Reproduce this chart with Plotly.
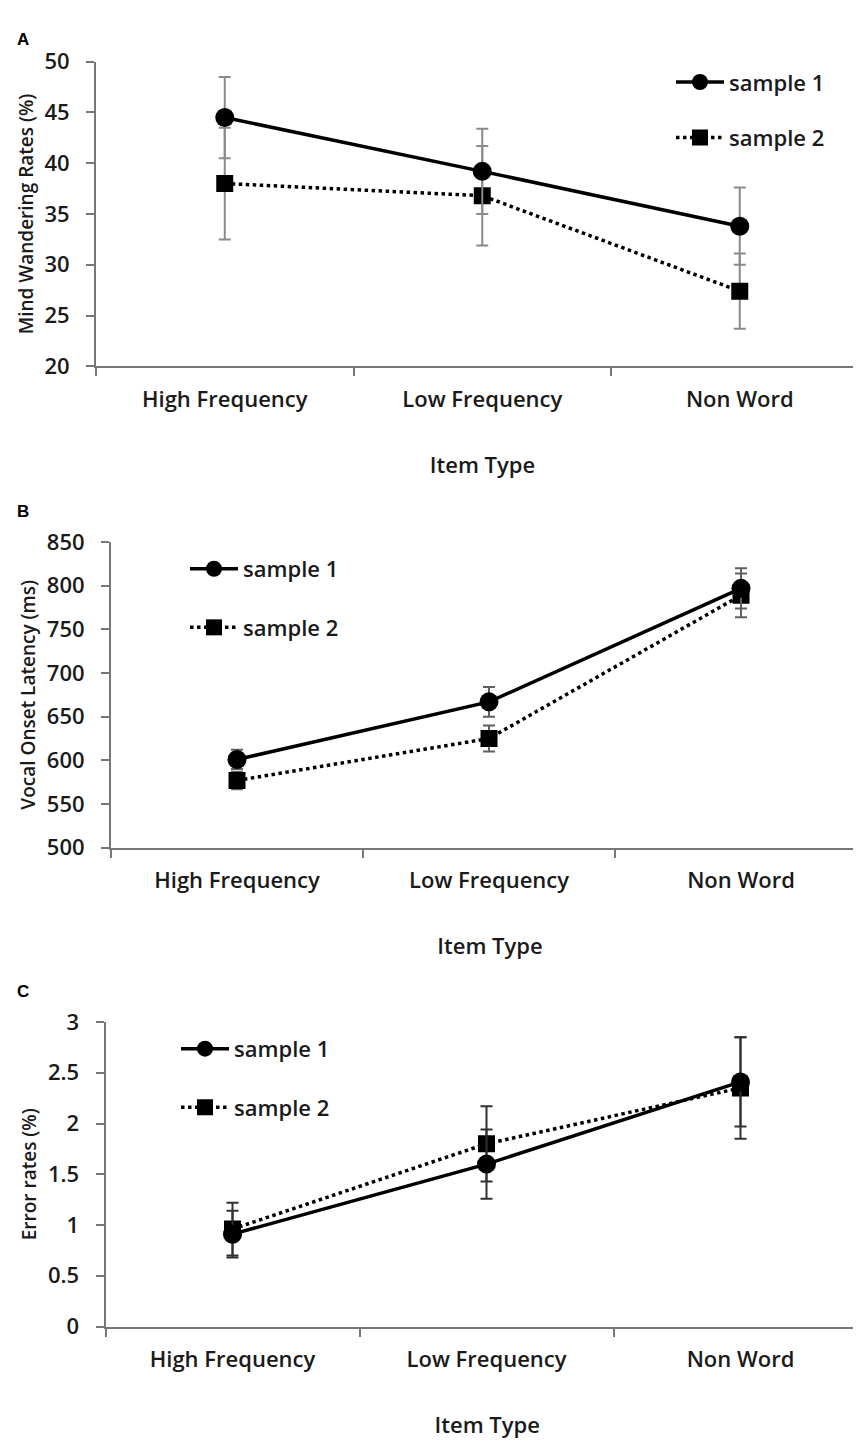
import plotly.graph_objects as go

categories = ["High Frequency", "Low Frequency", "Non Word"]

# Panel A: Mind wandering rates (%)
a_s1 = [44.5, 39.2, 33.8]
a_s1_err = [4.0, 4.2, 3.8]
a_s2 = [38.0, 36.8, 27.4]
a_s2_err = [5.5, 4.9, 3.7]

# Panel B: Vocal onset latency (ms)
b_s1 = [601, 667, 797]
b_s1_err = [11, 17, 23]
b_s2 = [577, 625, 789]
b_s2_err = [10, 15, 25]

# Panel C: Error rates (%)
c_s1 = [0.91, 1.60, 2.41]
c_s1_err = [0.23, 0.34, 0.44]
c_s2 = [0.96, 1.80, 2.35]
c_s2_err = [0.26, 0.37, 0.50]

W, H = 861, 1454
OFF = 8  # page body margin in the browser
FONT = "Open Sans"
TXT = "#1a1a1a"
AXC = "#777777"


def px_x(p):
    return (p - OFF) / W


def px_y(p):
    return 1 - (p - OFF) / H


panels = [
    dict(s1=a_s1, e1=a_s1_err, s2=a_s2, e2=a_s2_err, ytitle="Mind Wandering Rates (%)",
         yrange=[20, 50], dtick=5, left=96, top=46.5, bottom=357.5, spacing=257.5,
         leg=(671, 46), gap=24, letter="A", letter_y=12, errc="#8a8a8a"),
    dict(s1=b_s1, e1=b_s1_err, s2=b_s2, e2=b_s2_err, ytitle="Vocal Onset Latency (ms)",
         yrange=[500, 850], dtick=50, left=111, top=537, bottom=849, spacing=252,
         leg=(185, 543), gap=27, letter="B", letter_y=494, errc="#606060"),
    dict(s1=c_s1, e1=c_s1_err, s2=c_s2, e2=c_s2_err, ytitle="Error rates (%)",
         yrange=[0, 3], dtick=0.5, left=105.5, top=1027, bottom=1338, spacing=254,
         leg=(176, 1033), gap=27, letter="C", letter_y=984, errc="#303030"),
]

fig = go.Figure()
layout = dict(
    width=W, height=H, margin=dict(l=0, r=0, t=0, b=0),
    paper_bgcolor="white", plot_bgcolor="white",
    font=dict(family=FONT, color=TXT, size=22, weight=600),
    annotations=[],
)

for i, p in enumerate(panels):
    n = "" if i == 0 else str(i + 1)
    xa, ya = "x" + n, "y" + n
    legname = "legend" + n
    fig.add_trace(go.Scatter(
        x=categories, y=p["s2"], xaxis=xa, yaxis=ya, name="sample 2",
        mode="lines+markers", legend=legname, legendgroup="s2" + n, legendrank=2,
        line=dict(color="black", width=3.5, dash="dot"),
        marker=dict(symbol="square", size=17, color="black"),
        error_y=dict(type="data", array=p["e2"], color=p["errc"], thickness=2, width=6),
    ))
    fig.add_trace(go.Scatter(
        x=categories, y=p["s1"], xaxis=xa, yaxis=ya, name="sample 1",
        mode="lines+markers", legend=legname, legendgroup="s1" + n, legendrank=1,
        line=dict(color="black", width=3.5),
        marker=dict(symbol="circle", size=19, color="black"),
        error_y=dict(type="data", array=p["e1"], color=p["errc"], thickness=2, width=6),
    ))
    xmax = -0.5 + (W + OFF - p["left"]) / p["spacing"]
    layout["xaxis" + n] = dict(
        domain=[px_x(p["left"]), 1.0], anchor=ya, type="category",
        categoryorder="array", categoryarray=categories,
        range=[-0.5, xmax], showline=True, linecolor=AXC, linewidth=2,
        ticks="outside", tickson="boundaries", ticklen=8, tickcolor=AXC, tickwidth=2,
        showgrid=False, zeroline=False, tickfont=dict(size=22), ticklabelstandoff=12,
        title=dict(text="Item Type", font=dict(size=22), standoff=46),
    )
    layout["yaxis" + n] = dict(
        domain=[px_y(p["bottom"]), px_y(p["top"])], anchor=xa,
        range=p["yrange"], dtick=p["dtick"], showline=True, linecolor=AXC, linewidth=2,
        ticks="outside", ticklen=8, tickcolor=AXC, tickwidth=2,
        showgrid=False, zeroline=False, tickfont=dict(size=22), ticklabelstandoff=12,
        title=dict(text=p["ytitle"], font=dict(size=19), standoff=6),
    )
    layout[legname] = dict(
        x=px_x(p["leg"][0]), y=px_y(p["leg"][1]), xanchor="left", yanchor="top",
        traceorder="grouped", tracegroupgap=p["gap"], bgcolor="rgba(0,0,0,0)",
        font=dict(size=22, family=FONT, color=TXT, weight=600), itemwidth=48,
    )
    layout["annotations"].append(dict(
        text=p["letter"], x=px_x(15), y=px_y(p["letter_y"]), xref="paper", yref="paper",
        xanchor="left", yanchor="top", showarrow=False,
        font=dict(family="Liberation Sans", size=17, color="black", weight="bold"),
    ))

fig.update_layout(**layout)
fig.write_html("out.html")
